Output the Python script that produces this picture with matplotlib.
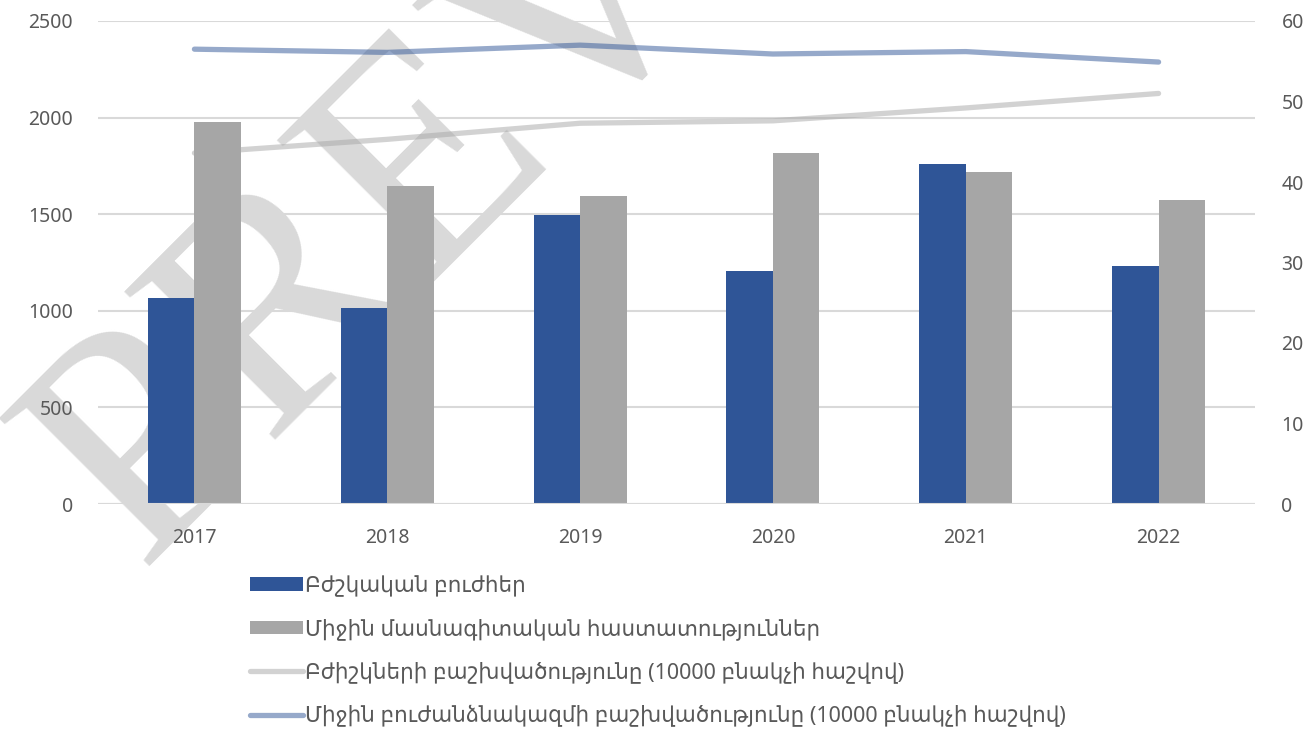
import matplotlib
matplotlib.use("Agg")
import matplotlib.pyplot as plt
import numpy as np
from matplotlib.patches import Patch
from matplotlib.lines import Line2D

years = ["2017", "2018", "2019", "2020", "2021", "2022"]
med_institutions = [1068, 1013, 1496, 1206, 1760, 1232]
secondary_schools = [1979, 1648, 1594, 1815, 1718, 1572]
doctors_per_10000 = [43.6, 45.3, 47.3, 47.6, 49.2, 51.0]
nurses_per_10000 = [56.5, 56.1, 57.0, 55.9, 56.2, 54.9]

labels = [
    "Բժշկական բուժհեր",
    "Միջին մասնագիտական հաստատություններ",
    "Բժիշկների բաշխվածությունը (10000 բնակչի հաշվով)",
    "Միջին բուժանձնակազմի բաշխվածությունը (10000 բնակչի հաշվով)",
]

BLUE = "#2F5597"
GRAY = "#A6A6A6"
TXT = "#595959"
GRID = "#D9D9D9"

plt.rcParams["font.family"] = ["Noto Sans", "DejaVu Sans"]

W, H = 1315, 735
fig = plt.figure(figsize=(W / 100, H / 100), dpi=100)
fig.patch.set_facecolor("white")

ax = fig.add_axes([98 / W, 1 - 504 / H, (1255 - 98) / W, (504 - 21) / H])
ax.patch.set_alpha(0)
ax2 = ax.twinx()
ax2.patch.set_alpha(0)

# watermark: behind gridlines, labels and bars; under the semi-transparent lines
ax.text(139 / W, 1 - 567 / H, "PREVIEW", rotation=45, rotation_mode="anchor",
        ha="left", va="baseline", fontsize=232, color="#D9D9D9",
        family="Liberation Serif", zorder=0.3, transform=fig.transFigure,
        clip_on=False)

x = np.arange(len(years))
bw = 0.241
ax.bar(x - bw / 2, med_institutions, bw, color=BLUE, zorder=3)
ax.bar(x + bw / 2, secondary_schools, bw, color=GRAY, zorder=3)

ax.set_xlim(-0.5, len(years) - 0.5)
ax.set_ylim(0, 2500)
ax.set_yticks(np.arange(0, 2501, 500))
ax.grid(axis="y", color=GRID, linewidth=1.5)
ax.set_axisbelow(True)
ax.axhline(0, color=GRID, linewidth=1.5, zorder=4)
ax.set_xticks(x)
ax.set_xticklabels(years)

ax2.plot(x, doctors_per_10000, color=GRAY, alpha=0.5, linewidth=3.8,
         solid_capstyle="round", solid_joinstyle="round")
ax2.plot(x, nurses_per_10000, color=BLUE, alpha=0.5, linewidth=3.8,
         solid_capstyle="round", solid_joinstyle="round")
ax2.set_ylim(0, 60)
ax2.set_yticks(np.arange(0, 61, 10))

for a in (ax, ax2):
    for s in a.spines.values():
        s.set_visible(False)
    a.tick_params(length=0, labelsize=14, labelcolor=TXT)
ax.tick_params(axis="y", pad=18)
ax.tick_params(axis="x", pad=17)
ax2.tick_params(axis="y", pad=19)

handles = [
    Patch(facecolor=BLUE, edgecolor="none"),
    Patch(facecolor=GRAY, edgecolor="none"),
    Line2D([0], [0], color=GRAY, alpha=0.5, linewidth=3.8, solid_capstyle="round"),
    Line2D([0], [0], color=BLUE, alpha=0.5, linewidth=3.8, solid_capstyle="round"),
]
leg = fig.legend(handles, labels, loc="upper left",
                 bbox_to_anchor=(250 / W, 1 - 575 / H), frameon=False,
                 fontsize=15.5, labelcolor=TXT, handlelength=2.45,
                 handleheight=0.6, handletextpad=0.1, labelspacing=1.0,
                 borderpad=0, borderaxespad=0)

fig.savefig("out.png", dpi=100, facecolor="white")
